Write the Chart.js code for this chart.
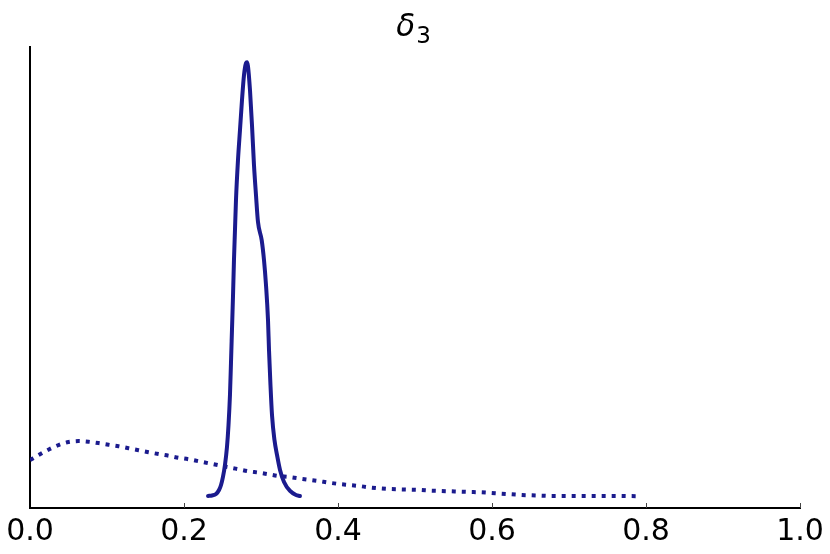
<!DOCTYPE html>
<html>
<head>
<meta charset="utf-8">
<script src="https://cdn.jsdelivr.net/npm/chart.js@4/dist/chart.umd.min.js"></script>
<style>
  html, body { margin: 0; padding: 0; background: #ffffff; }
  #wrap { width: 830px; height: 554px; }
</style>
</head>
<body>
<div id="wrap"><canvas id="c" width="830" height="554"></canvas></div>
<script>
// ---- data ----
const titleSymbol = "δ";
const titleSub = "3";
const xTicks = [0.0, 0.2, 0.4, 0.6, 0.8, 1.0];

const posteriorX = [0.2312, 0.2364, 0.2416, 0.2455, 0.2481, 0.2506, 0.2532, 0.2558, 0.2578, 0.2597,
  0.2610, 0.2623, 0.2636, 0.2649, 0.2662, 0.2675, 0.2701, 0.2727, 0.2753, 0.2779,
  0.2805, 0.2818, 0.2831, 0.2857, 0.2883, 0.2909, 0.2935, 0.2961, 0.3009, 0.3039,
  0.3065, 0.3091, 0.3104, 0.3123, 0.3143, 0.3175, 0.3208, 0.3247, 0.3299, 0.3377,
  0.3455, 0.3506];
const posteriorY = [0.00, 0.03, 0.12, 0.36, 0.66, 1.14, 1.86, 2.93, 4.25, 6.05,
  7.96, 9.94, 11.92, 14.13, 15.93, 17.72, 20.12, 21.92, 23.71, 25.21,
  25.93, 25.99, 25.75, 24.31, 22.22, 19.82, 18.02, 16.41, 15.33, 14.13,
  12.63, 10.54, 8.74, 6.65, 4.85, 3.35, 2.46, 1.56, 0.84, 0.30,
  0.06, 0.00];

const priorX = [0.000, 0.013, 0.025, 0.037, 0.050, 0.063, 0.076, 0.089, 0.102, 0.115,
  0.128, 0.141, 0.154, 0.167, 0.180, 0.193, 0.206, 0.219, 0.232, 0.245,
  0.258, 0.271, 0.284, 0.297, 0.310, 0.323, 0.336, 0.348, 0.361, 0.374,
  0.388, 0.401, 0.414, 0.427, 0.440, 0.453, 0.466, 0.479, 0.494, 0.507,
  0.520, 0.533, 0.546, 0.558, 0.571, 0.586, 0.599, 0.612, 0.626, 0.639,
  0.652, 0.665, 0.678, 0.700, 0.730, 0.760, 0.787];
const priorY = [2.15, 2.50, 2.80, 3.05, 3.23, 3.29, 3.25, 3.17, 3.07, 2.98,
  2.86, 2.74, 2.62, 2.51, 2.41, 2.29, 2.20, 2.08, 1.96, 1.84,
  1.72, 1.60, 1.48, 1.40, 1.30, 1.20, 1.14, 1.06, 0.98, 0.90,
  0.80, 0.72, 0.66, 0.60, 0.52, 0.46, 0.42, 0.40, 0.38, 0.36,
  0.32, 0.30, 0.28, 0.26, 0.24, 0.22, 0.18, 0.14, 0.10, 0.06,
  0.04, 0.02, 0.00, 0.00, 0.00, 0.00, -0.01];

const lineColor = "#1b1b8e";

const toPoints = (xs, ys) => xs.map((x, i) => ({ x: x, y: ys[i] }));

// inward tick marks on the x axis
const innerTicks = {
  id: "innerTicks",
  afterDraw(chart) {
    const sx = chart.scales.x;
    const ctx = chart.ctx;
    const bottom = chart.chartArea.bottom;
    ctx.save();
    ctx.strokeStyle = "#444";
    ctx.lineWidth = 1;
    xTicks.forEach(v => {
      if (v === 0) return;
      const px = Math.round(sx.getPixelForValue(v)) + 0.5;
      ctx.beginPath();
      ctx.moveTo(px, bottom);
      ctx.lineTo(px, bottom - 5);
      ctx.stroke();
    });
    ctx.restore();
  }
};

// title with subscript
const mathTitle = {
  id: "mathTitle",
  afterDraw(chart) {
    const ctx = chart.ctx;
    const area = chart.chartArea;
    const cx = (area.left + area.right) / 2;
    ctx.save();
    ctx.fillStyle = "#000";
    ctx.textBaseline = "alphabetic";
    const f1 = "italic 31px 'DejaVu Sans'";
    const f2 = "23px 'DejaVu Sans'";
    ctx.font = f1;
    const w1 = ctx.measureText(titleSymbol).width;
    ctx.font = f2;
    const w2 = ctx.measureText(titleSub).width;
    const start = cx - (w1 + w2) / 2 - 2;
    ctx.font = f1;
    ctx.fillText(titleSymbol, start, 36);
    ctx.font = f2;
    ctx.fillText(titleSub, start + w1 + 1, 43);
    ctx.restore();
  }
};

new Chart(document.getElementById("c"), {
  type: "scatter",
  data: {
    datasets: [
      {
        label: "posterior",
        data: toPoints(posteriorX, posteriorY),
        showLine: true,
        borderColor: lineColor,
        backgroundColor: lineColor,
        borderWidth: 4,
        pointRadius: 0,
        cubicInterpolationMode: "monotone",
        borderCapStyle: "round",
        borderJoinStyle: "round"
      },
      {
        label: "prior",
        data: toPoints(priorX, priorY),
        showLine: true,
        borderColor: lineColor,
        backgroundColor: lineColor,
        borderWidth: 4,
        borderDash: [4, 6],
        borderCapStyle: "butt",
        pointRadius: 0,
        cubicInterpolationMode: "monotone"
      }
    ]
  },
  options: {
    responsive: false,
    animation: false,
    layout: { padding: { left: 30, right: 30, top: 47, bottom: 6 } },
    plugins: {
      legend: { display: false },
      tooltip: { enabled: false },
      title: { display: false }
    },
    scales: {
      x: {
        type: "linear",
        min: 0,
        max: 1,
        afterBuildTicks: (scale) => { scale.ticks = xTicks.map(v => ({ value: v })); },
        afterFit: (scale) => { scale.height = 40; },
        grid: { display: false, drawTicks: false },
        border: { display: true, color: "#000", width: 2 },
        ticks: {
          color: "#000",
          padding: 6,
          font: { family: "'DejaVu Sans'", size: 30 },
          maxRotation: 0,
          callback: (v) => Number(v).toFixed(1)
        }
      },
      y: {
        type: "linear",
        min: -0.72,
        max: 26.9,
        grid: { display: false, drawTicks: false },
        border: { display: true, color: "#000", width: 2 },
        ticks: { display: false }
      }
    }
  },
  plugins: [innerTicks, mathTitle]
});
</script>
</body>
</html>
